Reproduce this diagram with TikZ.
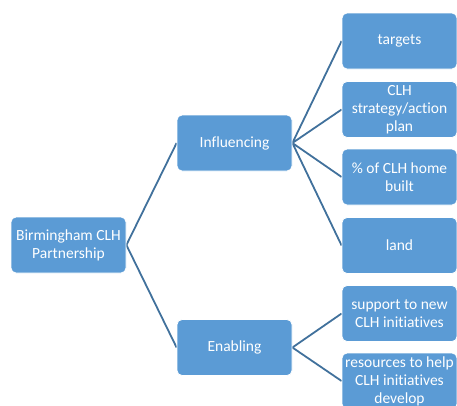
\documentclass[tikz,border=0pt]{standalone}
\usepackage{fontspec}
\setmainfont{Carlito}[Ligatures=NoCommon]
\usetikzlibrary{backgrounds}
\definecolor{boxblue}{HTML}{5B9BD5}
\definecolor{lineblue}{HTML}{41719C}
\begin{document}
\begin{tikzpicture}[x=1pt,y=-1pt,
  box/.style={draw=white, line width=0.8pt, fill=boxblue, rounded corners=5pt,
    minimum width=115pt, minimum height=56pt, inner sep=0pt, text=white,
    align=center, font=\fontsize{15.5}{18}\selectfont},
  link/.style={draw=lineblue, line width=1.8pt}]
\clip (0,0) rectangle (457,405);
\useasboundingbox (0,0) rectangle (457,405);
\node[box] (root) at (68.5,245) {Birmingham CLH\\Partnership};
\node[box] (infl) at (234.5,143) {Influencing};
\node[box] (enab) at (234.5,347.5) {Enabling};
\node[box] (targets) at (399.5,41) {targets};
\node[box] (clh) at (399.5,109.5) {CLH\\strategy/action\\plan};
\node[box] (pct) at (399.5,177) {\% of CLH home\\built};
\node[box] (land) at (399.5,245.5) {land};
\node[box] (supp) at (399.5,313.5) {support to new\\CLH initiatives};
\node[box] (res) at (399.5,381) {resources to help\\CLH initiatives\\develop};
\begin{pgfonlayer}{background}
\draw[link] (infl.west) -- (root.east) -- (enab.west);
\draw[link] (targets.west) -- (infl.east) -- (clh.west);
\draw[link] (pct.west) -- (infl.east) -- (land.west);
\draw[link] (supp.west) -- (enab.east) -- (res.west);
\end{pgfonlayer}
\end{tikzpicture}
\end{document}
